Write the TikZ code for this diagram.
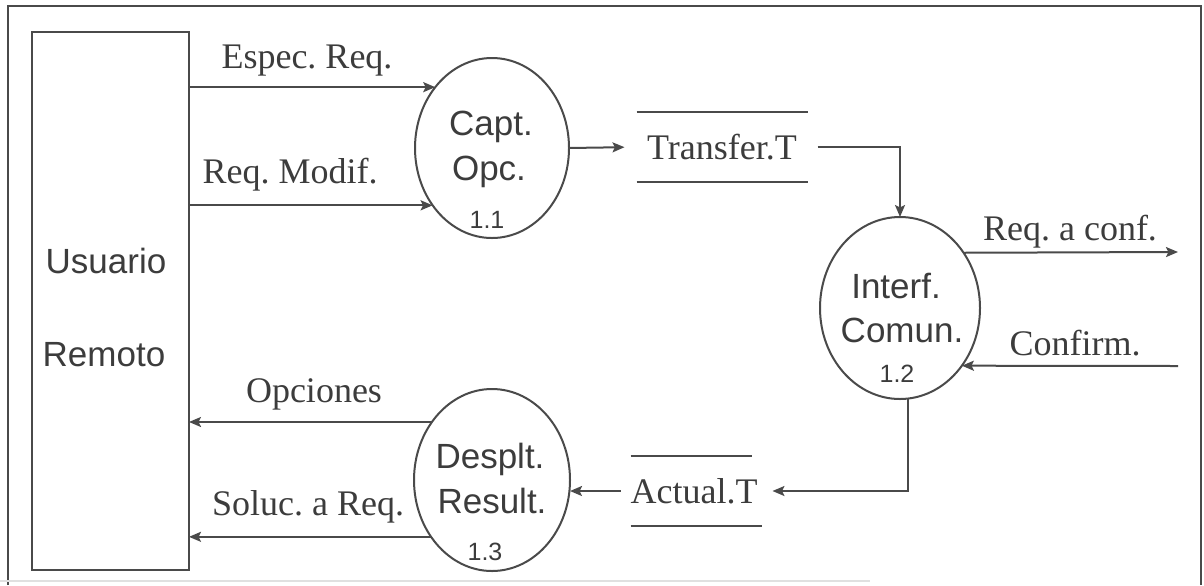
\documentclass[tikz,border=0pt]{standalone}
\usepackage{fontspec}
\setmainfont{Liberation Serif}
\setsansfont{Liberation Sans}
\usetikzlibrary{arrows.meta,shapes.geometric}
\definecolor{ink}{HTML}{4A4A4A}
\definecolor{txt}{HTML}{3C3C3C}
\tikzset{
  flow/.style={draw=ink,line width=1pt,-{Stealth[length=6pt,width=5pt,inset=1.2pt]}},
  proc/.style={ellipse,draw=ink,line width=1pt,inner sep=0pt,outer sep=0pt},
  ptext/.style={font=\sffamily\fontsize{17.5}{20}\selectfont,text=txt,anchor=base,inner sep=0pt},
  pnum/.style={font=\sffamily\fontsize{12.5}{14}\selectfont,text=txt,anchor=base,inner sep=0pt},
  lbl/.style={font=\rmfamily\fontsize{18}{20}\selectfont,text=txt,anchor=base,inner sep=0pt},
  store/.style={font=\rmfamily\fontsize{18}{20}\selectfont,text=txt,inner sep=0pt,outer sep=0pt,minimum height=35pt},
  storeline/.style={draw=ink,line width=1pt},
}
\begin{document}
\frenchspacing
\begin{tikzpicture}[x=0.5pt,y=-0.5pt]
\useasboundingbox (0,0) rectangle (1204,585);
% outer frame
\draw[draw=ink,line width=1.3pt] (8,585) -- (8,6) -- (1201,6) -- (1201,585);
\draw[draw=black!12,line width=1pt] (0,581) -- (870,581);

% external entity
\node[draw=ink,line width=1.1pt,minimum width=78.5pt,minimum height=269pt,inner sep=0pt,outer sep=0pt] (usr) at (110.5,301) {};
\node[ptext] (usr1) at (106,273) {Usuario};
\node[ptext] (usr2) at (104,366) {Remoto};

% processes
\node[proc,minimum width=77pt,minimum height=90pt] (cap) at (492,148) {};
\node[ptext] (cap1) at (491,135) {Capt.};
\node[ptext] (cap2) at (489,180) {Opc.};
\node[pnum] (cap3) at (487,228) {1.1};

\node[proc,minimum width=80pt,minimum height=91pt] (int) at (900,308) {};
\node[ptext] (int1) at (896,298) {Interf.};
\node[ptext] (int2) at (902,342) {Comun.};
\node[pnum] (int3) at (897,382) {1.2};

\node[proc,minimum width=78pt,minimum height=91pt] (des) at (492,480) {};
\node[ptext] (des1) at (490,468) {Desplt.};
\node[ptext] (des2) at (492,513) {Result.};
\node[pnum] (des3) at (485,560) {1.3};

% data stores
\node[store,minimum width=85.5pt] (tr) at (722,147) {Transfer.T};
\draw[storeline] (tr.north west) -- (tr.north east);
\draw[storeline] (tr.south west) -- (tr.south east);

\node[store,minimum width=61.5pt] (act) at (694,491) {Actual.T};
\draw[storeline] (act.north west) -- ([xshift=-2.5pt]act.north east);
\draw[storeline] (act.south west) -- ([xshift=2.5pt]act.south east);

% free ends
\coordinate (rc) at (1178,252);
\coordinate (cf) at (1178,366);

% flows
\draw[flow] (cap.133.5 -| usr.east) -- (cap.133.5);
\node[lbl] (l1) at (307,68) {Espec. Req.};
\draw[flow] (cap.224 -| usr.east) -- (cap.224);
\node[lbl] (l2) at (290,183) {Req. Modif.};

\draw[flow,shorten >=6pt] (cap.east) -- (tr.west);
\draw[flow,shorten <=5pt] (tr.east) -| (int.north);

\draw[flow] (int.41.6) -- (rc);
\node[lbl] (l3) at (1070,240) {Req. a conf.};
\draw[flow] (cf) -- (int.-43);
\node[lbl] (l4) at (1075,355) {Confirm.};

\draw[flow,shorten >=7.5pt] ([xshift=4pt]int.south) |- (act.east);
\draw[flow,shorten <=5pt] (act.west) -- (act.west -| des.east);

\draw[flow] (des.136) -- (des.136 -| usr.east);
\node[lbl] (l5) at (314,402) {Opciones};
\draw[flow] (des.223) -- (des.223 -| usr.east);
\node[lbl] (l6) at (308,515) {Soluc. a Req.};
\end{tikzpicture}
\end{document}
